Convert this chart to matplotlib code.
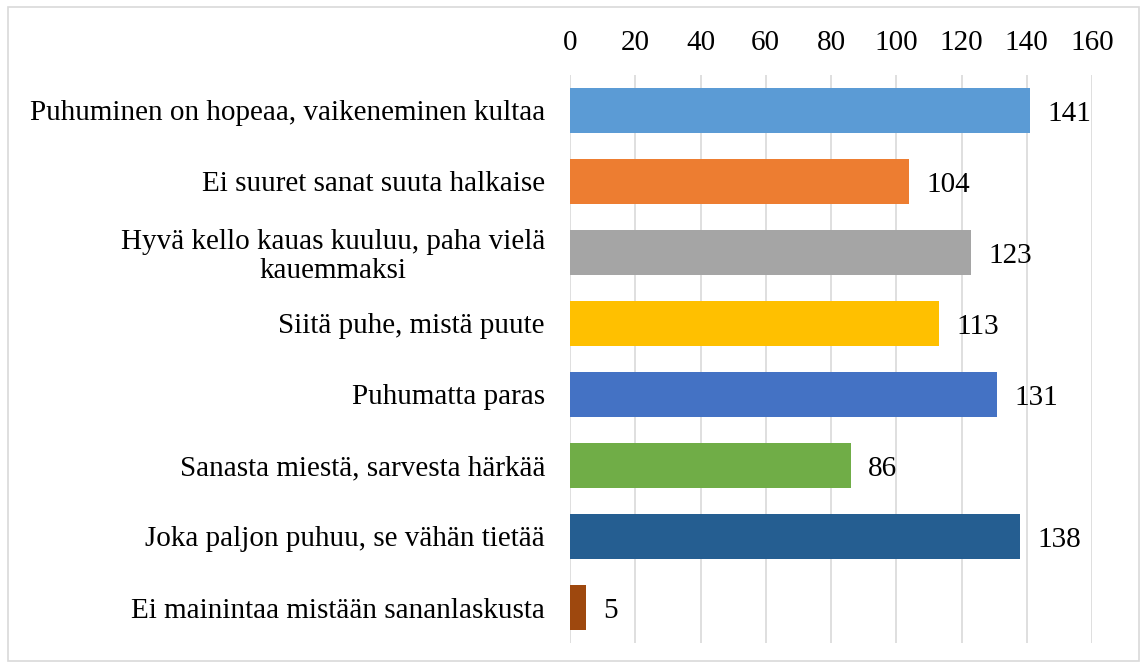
import matplotlib.pyplot as plt
from matplotlib.patches import Rectangle

plt.rcParams['font.family'] = ['Liberation Serif', 'DejaVu Serif']

categories = ['Puhuminen on hopeaa, vaikeneminen kultaa',
              'Ei suuret sanat suuta halkaise',
              'Hyvä kello kauas kuuluu, paha vielä\nkauemmaksi',
              'Siitä puhe, mistä puute',
              'Puhumatta paras',
              'Sanasta miestä, sarvesta härkää',
              'Joka paljon puhuu, se vähän tietää',
              'Ei mainintaa mistään sananlaskusta']
values = [141, 104, 123, 113, 131, 86, 138, 5]
bar_colors = ['#5B9BD5', '#ED7D31', '#A5A5A5', '#FFC000',
              '#4472C4', '#70AD47', '#255E91', '#9E480E']
xticks = list(range(0, 161, 20))

fig = plt.figure(figsize=(11.41, 6.68), dpi=100)
ax = fig.add_axes([570/1141, 1 - 643/668, (1092 - 570)/1141, (643 - 75)/668])

pos = list(range(len(values)))
bars = ax.barh(pos, values, height=0.62, color=bar_colors, zorder=3)
ax.set_ylim(len(values) - 0.5, -0.5)
ax.set_xlim(0, 160)

ax.set_xticks(xticks)
ax.xaxis.tick_top()
ax.tick_params(axis='x', length=0, pad=14, labelsize=21)
ax.tick_params(axis='y', length=0, pad=18, labelsize=21)
ax.set_yticks(pos)
ax.set_yticklabels(categories, multialignment='center', linespacing=1.15)
ax.grid(axis='x', color='#D9D9D9', linewidth=1.2, zorder=0)
for s in ax.spines.values():
    s.set_visible(False)

for b, v in zip(bars, values):
    ax.annotate(str(v), (v, b.get_y() + b.get_height() / 2),
                xytext=(12.5, -2.5), textcoords='offset points',
                ha='left', va='center', fontsize=21)

fig.patches.append(Rectangle((8/1141, 1 - 661/668), 1131/1141, 654/668,
                             transform=fig.transFigure, fill=False,
                             edgecolor='#D9D9D9', linewidth=1.2))

fig.savefig('out.png', dpi=100)
